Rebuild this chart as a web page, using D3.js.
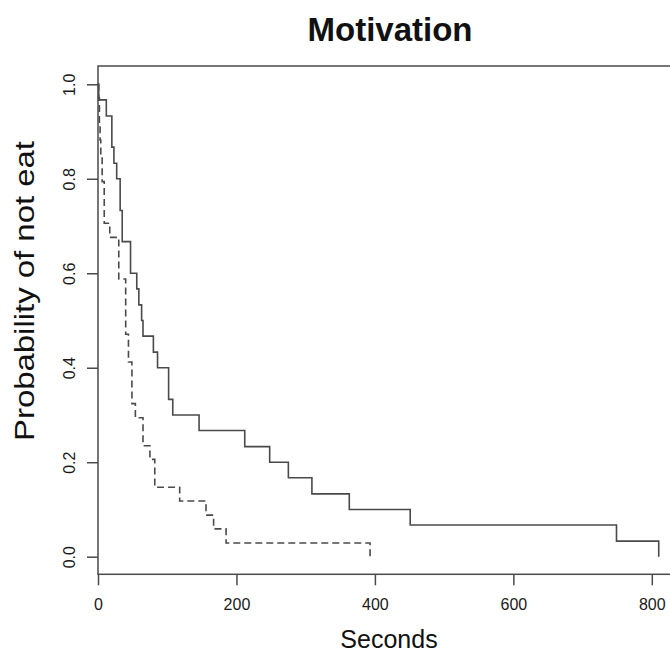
<!DOCTYPE html>
<html>
<head>
<meta charset="utf-8">
<script src="https://cdn.jsdelivr.net/npm/d3@7"></script>
<style>
  body { margin: 0; background: #fff; }
  svg { display: block; font-family: "Liberation Sans", Arial, sans-serif; }
</style>
</head>
<body>
<div id="chart"></div>
<script>
// survival curves
const solidTime = [0, 1, 12, 20, 23, 27, 32, 35, 47, 56, 59, 63, 65, 80, 86, 102, 108, 146, 212, 248, 275, 309, 363, 451, 749, 810];
const solidSurv = [1, 0.967, 0.933, 0.867, 0.833, 0.8, 0.733, 0.667, 0.6, 0.567, 0.533, 0.5, 0.467, 0.433, 0.4, 0.333, 0.3, 0.267, 0.233, 0.2, 0.167, 0.133, 0.1, 0.067, 0.033, 0];

const dashTime = [0, 1, 2, 3, 4, 6, 9, 17, 30, 40, 44, 49, 54, 65, 75, 82, 118, 156, 167, 185, 393];
const dashSurv = [1, 0.971, 0.912, 0.882, 0.853, 0.794, 0.706, 0.676, 0.588, 0.471, 0.412, 0.324, 0.294, 0.235, 0.206, 0.147, 0.118, 0.088, 0.059, 0.029, 0];

const xTicks = [0, 200, 400, 600, 800];
const yTicks = [0, 0.2, 0.4, 0.6, 0.8, 1.0];

const W = 670, H = 653;
const box = {left: 98, top: 66, right: 682, bottom: 574.3};
const ink = "#4a4a4a";

let svg = d3.select("#chart")
  .append("svg")
  .attr("width", W)
  .attr("height", H);

svg.append("rect")
  .attr("width", W).attr("height", H)
  .attr("fill", "#fff");

let x = d3.scaleLinear()
  .domain([0, 800])
  .range([98, 651.8]);

let y = d3.scaleLinear()
  .domain([0, 1])
  .range([556.7, 84.3]);

// plot box
svg.append("rect")
  .attr("x", box.left)
  .attr("y", box.top)
  .attr("width", box.right - box.left)
  .attr("height", box.bottom - box.top)
  .attr("fill", "none")
  .attr("stroke", ink)
  .attr("stroke-width", 1.5);

// X axis
let xAxis = svg.append("g")
  .attr("transform", "translate(0," + box.bottom + ")")
  .call(d3.axisBottom(x).tickValues(xTicks).tickSize(11).tickPadding(13));
xAxis.select(".domain").remove();
xAxis.selectAll("line").attr("stroke", ink).attr("stroke-width", 1.5);
xAxis.selectAll("text")
  .attr("font-size", 16)
  .attr("fill", "#1a1a1a")
  .style("font-family", "'Liberation Sans', Arial, sans-serif");

// Y axis, labels turned along the axis like base R
let yAxis = svg.append("g")
  .attr("transform", "translate(" + box.left + ",0)")
  .call(d3.axisLeft(y).tickValues(yTicks).tickSize(11).tickFormat(d3.format(".1f")));
yAxis.select(".domain").remove();
yAxis.selectAll("line").attr("stroke", ink).attr("stroke-width", 1.5);
yAxis.selectAll("text")
  .attr("x", null)
  .attr("dy", null)
  .attr("text-anchor", "middle")
  .attr("transform", "translate(-23.5,0) rotate(-90)")
  .attr("font-size", 16)
  .attr("fill", "#1a1a1a")
  .style("font-family", "'Liberation Sans', Arial, sans-serif");

// step curves
let step = d3.line()
  .x(d => x(d[0]))
  .y(d => y(d[1]))
  .curve(d3.curveStepAfter);

svg.append("path")
  .datum(d3.zip(solidTime, solidSurv))
  .attr("d", step)
  .attr("fill", "none")
  .attr("stroke", ink)
  .attr("stroke-width", 1.6);

svg.append("path")
  .datum(d3.zip(dashTime, dashSurv))
  .attr("d", step)
  .attr("fill", "none")
  .attr("stroke", ink)
  .attr("stroke-width", 1.6)
  .attr("stroke-dasharray", "7,4");

// titles
svg.append("text")
  .attr("x", 390)
  .attr("y", 41)
  .attr("text-anchor", "middle")
  .attr("font-size", 33)
  .attr("font-weight", "bold")
  .attr("fill", "#111")
  .text("Motivation");

svg.append("text")
  .attr("x", 389)
  .attr("y", 648)
  .attr("text-anchor", "middle")
  .attr("font-size", 25)
  .attr("fill", "#111")
  .text("Seconds");

svg.append("text")
  .attr("transform", "translate(34,291) rotate(-90)")
  .attr("text-anchor", "middle")
  .attr("font-size", 27)
  .attr("textLength", 300)
  .attr("lengthAdjust", "spacingAndGlyphs")
  .attr("fill", "#111")
  .text("Probability of not eat");
</script>
</body>
</html>
